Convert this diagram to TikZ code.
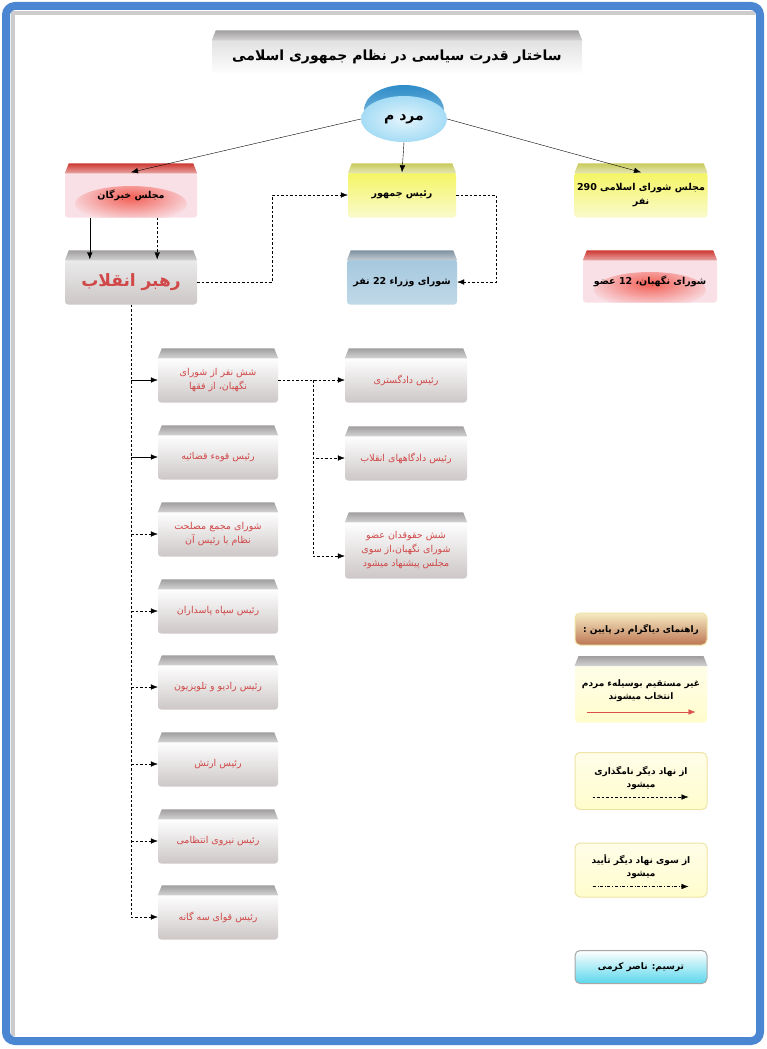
\documentclass[tikz,border=0pt]{standalone}
\usepackage{fontspec}
\usepackage{tikz}
\usetikzlibrary{shapes.geometric,arrows.meta}
\TeXXeTstate=1
\newfontfamily\fafont[Script=Arabic]{DejaVu Sans}
\newcommand\fa[1]{\beginR #1\endR}
\newcommand\num[1]{\beginL #1\endL{}}
\newcommand\lift{\rule[-8pt]{0pt}{8pt}}

\definecolor{framblue}{RGB}{74,134,210}
\definecolor{bandgrey}{RGB}{160,158,158}
\definecolor{tilegrey}{RGB}{205,199,199}
\definecolor{textred}{RGB}{208,72,72}
\definecolor{bandred}{RGB}{205,55,50}
\definecolor{pinkbody}{RGB}{249,224,230}
\definecolor{glowred}{RGB}{242,95,85}
\definecolor{bandyellow}{RGB}{200,202,90}
\definecolor{yellowbody}{RGB}{245,245,100}
\definecolor{yellowpale}{RGB}{250,250,205}
\definecolor{bandblue}{RGB}{125,145,160}
\definecolor{bluebody}{RGB}{165,200,222}
\definecolor{capblue}{RGB}{45,140,200}
\definecolor{skybody}{RGB}{165,220,245}
\definecolor{legyellow}{RGB}{255,253,232}
\definecolor{legborder}{RGB}{238,228,165}
\definecolor{browntop}{RGB}{246,236,196}
\definecolor{brownbot}{RGB}{188,118,82}
\definecolor{creditcyan}{RGB}{90,215,236}
\definecolor{arrowred}{RGB}{220,80,75}

\tikzset{
  tilebase/.style={rounded corners=3pt, inner sep=2pt, align=center, minimum height=45pt},
  tile/.style={tilebase, minimum width=120pt, text=textred, font=\fafont\fontsize{9.5}{14}\selectfont, top color=white, bottom color=tilegrey},
  headtile/.style={tilebase, minimum width=132pt, font=\fafont\bfseries\fontsize{9.5}{14}\selectfont},
  pinktile/.style={headtile, fill=pinkbody, path picture={\shade[inner color=glowred, outer color=pinkbody] ([yshift=-9pt]path picture bounding box.center) ellipse (56 and 18);}},
  yellowtile/.style={headtile, top color=yellowbody, bottom color=yellowpale},
  greytile/.style={headtile, top color=black!8, bottom color=tilegrey},
  bluetile/.style={headtile, top color=bluebody, bottom color=bluebody!70!white},
  legtile/.style={draw=legborder, line width=1pt, rounded corners=5pt, inner sep=2pt, align=center, minimum width=132pt, font=\fafont\bfseries\fontsize{9}{13}\selectfont, top color=legyellow, bottom color=legyellow!88!yellow},
  namedarrow/.style={->, dash pattern=on 2.5pt off 2pt},
}

\begin{document}
\begin{tikzpicture}[x=1pt, y=-1pt, >={Latex[length=7pt,width=5.5pt]}]
    % Define column positions
    \def\leftcol{218}
    \def\rightcol{406}
    \def\legcol{641}

    % Draw white page and blue frame
    \fill[white] (0,0) rectangle (767,1049);
    \draw[black!20, line width=4pt] (13,1036) -- (13,13) -- (755,13);
    \draw[framblue, line width=8pt, rounded corners=9pt] (6,6) rectangle (760,1041);

    % Title
    \node[tilebase, rounded corners=0pt, minimum width=370pt, minimum height=35pt, top color=black!12, bottom color=white, font=\fafont\bfseries\fontsize{14}{17}\selectfont] (title) at (397,57) {\fa{ساختار قدرت سیاسی  در نظام جمهوری اسلامی}};

    % People ellipse with its blue cap
    \shade[top color=capblue, bottom color=capblue!45!white] (404,110) ellipse (40 and 25);
    \node[ellipse, inner color=white!70!skybody, outer color=skybody, minimum width=86pt, minimum height=46pt, font=\fafont\bfseries\fontsize{14}{16}\selectfont] (mardom) at (404,119) {\fa{مرد م}};

    % Top row
    \node[pinktile] (khob) at (131,195) {\fa{مجلس خبرگان}};
    \node[yellowtile, minimum width=108pt] (raees) at (402,195) {\fa{رئیس جمهور}};
    \node[yellowtile, minimum width=133pt] (majles) at (641,195) {\fa{مجلس شورای اسلامی \num{290}}\\\fa{نفر}};

    % Second row
    \node[greytile, text=textred, font=\fafont\bfseries\fontsize{17}{20}\selectfont] (rahbar) at (131,282) {\fa{رهبر انقلاب}};
    \node[bluetile, minimum width=110pt] (vozara) at (402,282) {\fa{شورای وزراء \num{22} نفر}};
    \node[pinktile, minimum width=134pt, minimum height=43pt] (negahban) at (650,281) {\fa{شورای نگهبان، \num{12} عضو}};

    % Left column
    \node[tile] (l1) at (\leftcol,380) {\fa{شش نفر از شورای}\\\fa{نگهبان، از فقها}};
    \node[tile] (l2) at (\leftcol,457) {\fa{رئیس قوهء قضائیه}};
    \node[tile] (l3) at (\leftcol,534) {\fa{شورای مجمع مصلحت}\\\fa{نظام با رئیس آن}};
    \node[tile] (l4) at (\leftcol,611) {\fa{رئیس سپاه پاسداران}};
    \node[tile] (l5) at (\leftcol,687) {\fa{رئیس رادیو و تلویزیون}};
    \node[tile] (l6) at (\leftcol,764) {\fa{رئیس ارتش}};
    \node[tile] (l7) at (\leftcol,841) {\fa{رئیس نیروی انتظامی}};
    \node[tile] (l8) at (\leftcol,917) {\fa{رئیس قوای سه گانه}};

    % Right column
    \node[tile, minimum width=122pt] (r1) at (\rightcol,380) {\fa{رئیس دادگستری}};
    \node[tile, minimum width=122pt] (r2) at (\rightcol,458) {\fa{رئیس دادگاههای انقلاب}};
    \node[tile, minimum width=122pt, minimum height=57pt] (r3) at (\rightcol,550) {\fa{شش حقوقدان عضو}\\\fa{شورای نگهبان،از سوی}\\\fa{مجلس پیشنهاد میشود}};

    % Legend
    \node[legtile, minimum height=32pt, top color=browntop, bottom color=brownbot] (g1) at (\legcol,629) {\fa{راهنمای دیاگرام در پایین :}};
    \node[legtile, draw=none, minimum height=57pt, rounded corners=3pt] (g2) at (\legcol,694) {\fa{غیر مستقیم بوسیلهء مردم}\\\fa{انتخاب میشوند}\lift};
    \node[legtile, minimum height=57pt] (g3) at (\legcol,781) {\fa{از نهاد دیگر نامگذاری}\\\fa{میشود}\lift};
    \node[legtile, minimum height=54pt] (g4) at (\legcol,870) {\fa{از سوی نهاد دیگر تأیید}\\\fa{میشود}\lift};
    \node[legtile, draw=black!35, minimum height=33pt, top color=white, bottom color=creditcyan] (g5) at (\legcol,967) {\fa{ترسیم:  ناصر کرمی}};

    % Top bands of the tiles
    \foreach \n/\c in {title/bandgrey, khob/bandred, raees/bandyellow, majles/bandyellow, rahbar/bandgrey, vozara/bandblue, negahban/bandred, l1/bandgrey, l2/bandgrey, l3/bandgrey, l4/bandgrey, l5/bandgrey, l6/bandgrey, l7/bandgrey, l8/bandgrey, r1/bandgrey, r2/bandgrey, r3/bandgrey, g2/bandgrey}
      \shade[top color=\c, bottom color=\c!45!white] ([xshift=4pt,yshift=9pt]\n.north west) -- ([xshift=-4pt,yshift=9pt]\n.north east) -- ([yshift=-1pt]\n.north east) -- ([yshift=-1pt]\n.north west) -- cycle;

    % People elect
    \draw[->] (mardom.west) -- (khob.north);
    \draw[->] (mardom.south) -- (raees.north);
    \draw[->] (mardom.east) -- (majles.north);

    % Experts choose the leader
    \draw[->] ([xshift=25pt]khob.south west) -- ([xshift=25pt]rahbar.north west);
    \draw[namedarrow] ([xshift=-40pt]khob.south east) -- ([xshift=-40pt]rahbar.north east);
    \draw[namedarrow] (rahbar.east) -- ++(75,0) |- (raees.west);
    \draw[namedarrow] (raees.east) -- ++(40,0) |- (vozara.east);

    % Leader names the left column
    \draw[namedarrow] (rahbar.south) |- (l8.west);
    \draw[->] (rahbar.south |- l1.west) -- (l1.west);
    \draw[->] (rahbar.south |- l2.west) -- (l2.west);
    \foreach \n in {l3,l4,l5,l6,l7}
      \draw[namedarrow] (rahbar.south |- \n.west) -- (\n.west);

    % Jurists to the right column
    \coordinate (fork) at ([xshift=35pt]l1.east);
    \draw[namedarrow] (l1.east) -- (r1.west);
    \draw[namedarrow] (fork) |- (r2.west);
    \draw[namedarrow] (fork) |- ([yshift=-6pt]r3.west);

    % Legend arrows
    \coordinate (g2a) at ([xshift=12pt,yshift=11pt]g2.south west);
    \coordinate (g2b) at ([xshift=-12pt,yshift=11pt]g2.south east);
    \draw[->, arrowred] (g2a) -- (g2b);
    \coordinate (g3a) at ([xshift=18pt,yshift=13pt]g3.south west);
    \coordinate (g3b) at ([xshift=-19pt,yshift=13pt]g3.south east);
    \draw[namedarrow] (g3a) -- (g3b);
    \coordinate (g4a) at ([xshift=18pt,yshift=11pt]g4.south west);
    \coordinate (g4b) at ([xshift=-19pt,yshift=11pt]g4.south east);
    \draw[->, dash dot] (g4a) -- (g4b);
\end{tikzpicture}
\end{document}
